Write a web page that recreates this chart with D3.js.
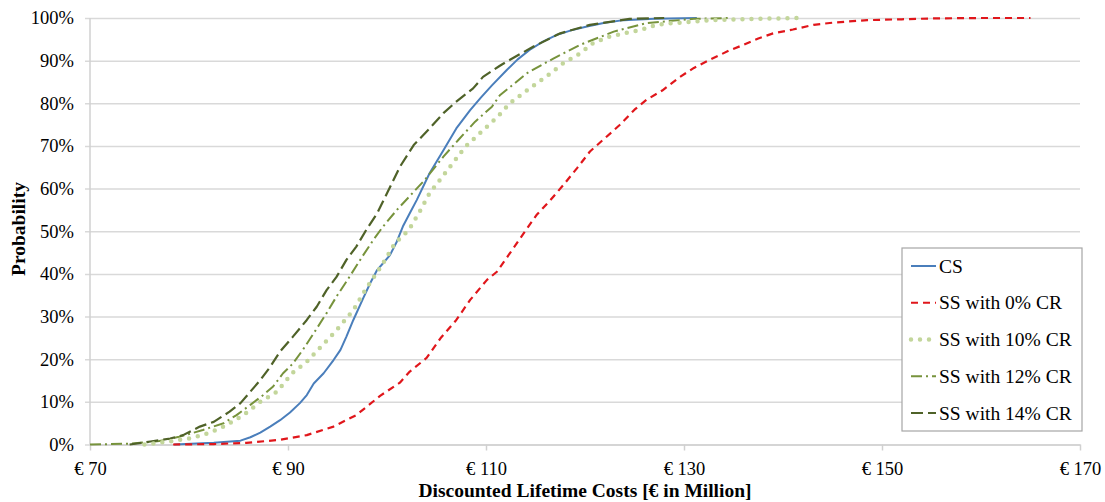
<!DOCTYPE html>
<html>
<head>
<meta charset="utf-8">
<script src="https://cdn.jsdelivr.net/npm/d3@7"></script>
<style>
  body { margin: 0; background: #fff; }
  svg { display: block; font-family: "Liberation Serif", "Times New Roman", serif; }
</style>
</head>
<body>
<svg class="chart"></svg>
<script>
// [cost in million €, cumulative probability in %]
var csData = [[78.5,0],[82.5,0.4],[85.2,0.9],[86.2,1.7],[87.2,2.8],[88.2,4.2],[89.2,5.7],[90.2,7.5],[91.2,9.7],[91.9,11.6],[92.6,14.3],[93.6,16.7],[94.6,19.8],[95.3,22.2],[95.9,25.3],[96.6,29.2],[97.6,34.3],[98.3,37.8],[99,40.9],[99.6,42.5],[100.3,44.4],[101,47.6],[101.6,51.1],[102.3,54.2],[103,57.3],[104.3,63.6],[105.7,69],[107,74.1],[108.4,78.4],[109.5,81.4],[110.6,84.2],[112.1,87.8],[113.2,90.3],[114.4,92.5],[115.7,94.4],[117.1,96],[118.6,97.1],[120.2,98],[122,98.9],[123.9,99.5],[127,99.8],[131.3,100]];
var ss0Data = [[78.4,0],[82.5,0.1],[85.8,0.4],[89.2,1.1],[91.9,2.2],[94.6,4.2],[96.9,6.9],[99.3,11.4],[101.3,14.5],[102.3,17.1],[104,20.3],[105.4,24.9],[107,29.2],[108.4,33.9],[110.1,38.6],[111.1,40.5],[112.4,44.8],[113.8,49.5],[115.1,53.8],[116.5,57.3],[117.8,60.8],[119.2,64.8],[120.5,68.7],[122,71.8],[123.5,74.9],[125,78.5],[126.2,80.8],[127.8,83],[129.6,86.2],[131,88.3],[132.6,90.2],[134.5,92.3],[136,93.7],[137.5,95.2],[139,96.4],[141,97.3],[143.1,98.4],[145,98.9],[148.5,99.5],[152,99.7],[155.2,99.9],[160,100],[165,100]];
var ss10Data = [[75.5,0],[78,0.7],[80.3,1.5],[82,2.7],[83.5,4.2],[85.5,6.9],[87.2,10],[88.9,12.4],[90.4,16.7],[91.9,19.4],[93.2,22.6],[94.9,26.8],[96.6,31.5],[97.9,36.6],[99.5,42.1],[100.8,47.2],[102.2,50.3],[103.3,54.6],[104.3,58.9],[106,64],[107.9,69.8],[109.9,74.1],[111.2,76.9],[112.4,80],[114.4,83.5],[116.5,87],[117.8,89.4],[119.5,91.7],[120.8,94.1],[122.4,95.6],[123.9,96.4],[125.6,97.2],[127.2,98.4],[128.9,98.8],[132.9,99.5],[137,99.8],[142,100]];
var ss12Data = [[70,0],[74,0.2],[77,0.8],[79,1.8],[81.4,3.4],[83.5,5],[84.8,6.9],[86.2,9.3],[87.5,11.6],[88.5,13.6],[89.5,16.7],[90.5,19],[91.5,22.2],[92.6,26.1],[93.9,30.8],[94.9,34.7],[95.9,38.2],[97.6,44.4],[98.6,47.9],[99.6,51.1],[101,55],[102,57.5],[103.8,62],[105.7,67.5],[107.2,71.4],[108.9,75.7],[110.6,79.2],[111.4,81.9],[112.8,84.5],[114.1,87],[116.8,90.5],[119.5,93.7],[122.9,96.8],[126.2,98.8],[131,99.8],[134.7,100]];
var ss14Data = [[74,0],[76.1,0.7],[78.1,1.4],[79.4,2.2],[81.1,4.2],[82.5,5.3],[84.1,7.7],[85.2,9.7],[86.2,12.4],[87.2,15.1],[88.2,18.2],[89.2,21.8],[90.5,25.3],[91.9,29.2],[92.9,32.3],[93.9,36.2],[94.9,39.3],[95.9,43.3],[96.9,46.4],[97.9,50.3],[99,54.2],[100,58.9],[101.3,65.1],[102.7,70.2],[104.3,74.1],[105.7,77.7],[107,80.4],[108.7,83.5],[109.7,86.2],[111.4,88.8],[112.1,89.8],[114.8,93.3],[117.5,96.4],[120.5,98.4],[124.5,99.8],[128,100]];

var seriesNames = ["CS", "SS with 0% CR", "SS with 10% CR", "SS with 12% CR", "SS with 14% CR"];
var xTicks = [70, 90, 110, 130, 150, 170];
var yTicks = [0, 10, 20, 30, 40, 50, 60, 70, 80, 90, 100];

var makeChart = function()
{
  var width = 1105;
  var height = 502;
  var left = 90, right = 1080, top = 18, bottom = 444.5;

  var svg = d3.select(".chart")
    .attr("width", width)
    .attr("height", height);

  var xScale = d3.scaleLinear().domain([70, 170]).range([left, right]);
  var yScale = d3.scaleLinear().domain([0, 100]).range([bottom, top]);

  // styles for each series, same order as seriesNames
  var styles = [
    {data: csData,  color: "#4a7ebb", width: 2,   dash: null,       cap: "butt"},
    {data: ss0Data, color: "#e0161b", width: 2.2, dash: "7,5",      cap: "butt"},
    {data: ss10Data,color: "#c3d69b", width: 4.5, dash: "0,9",      cap: "round"},
    {data: ss12Data,color: "#77933c", width: 2,   dash: "11,4,2,4", cap: "butt"},
    {data: ss14Data,color: "#4f6228", width: 2.2, dash: "12,5",     cap: "butt"}
  ];

  // horizontal gridlines + y axis
  var yAxis = d3.axisLeft(yScale)
    .tickValues(yTicks)
    .tickSize(-(right - left) - 5)
    .tickSizeOuter(0)
    .tickFormat(function(d){return d + "%";});

  var yG = svg.append("g")
    .attr("transform", "translate(" + left + ",0)")
    .call(yAxis);
  yG.select(".domain").remove();
  yG.selectAll(".tick line")
    .attr("x1", -5)
    .attr("x2", right - left)
    .attr("stroke", "#d9d9d9")
    .attr("stroke-width", 1.5);
  yG.selectAll(".tick text")
    .attr("x", -16)
    .attr("fill", "#000")
    .style("font-size", "18.5px")
    .style("font-family", "Liberation Serif");

  // left axis line
  svg.append("line")
    .attr("x1", left).attr("x2", left)
    .attr("y1", top).attr("y2", bottom)
    .attr("stroke", "#d0d0d0")
    .attr("stroke-width", 1.5);

  // x axis
  var xAxis = d3.axisBottom(xScale)
    .tickValues(xTicks)
    .tickSize(6)
    .tickSizeOuter(0)
    .tickFormat(function(d){return "€ " + d;});

  var xG = svg.append("g")
    .attr("transform", "translate(0," + bottom + ")")
    .call(xAxis);
  xG.select(".domain")
    .attr("stroke", "#d0d0d0")
    .attr("stroke-width", 1.5);
  xG.selectAll(".tick line")
    .attr("stroke", "#d0d0d0")
    .attr("stroke-width", 1.5);
  xG.selectAll(".tick text")
    .attr("y", 17)
    .attr("fill", "#000")
    .style("font-size", "18.5px")
    .style("font-family", "Liberation Serif");

  // the lines
  var line = d3.line()
    .x(function(d){return xScale(d[0]);})
    .y(function(d){return yScale(d[1]);});

  var order = [0, 1, 3, 4, 2];
  svg.selectAll("path.series")
     .data(order.map(function(i){return styles[i];}))
     .enter()
     .append("path")
     .attr("class", "series")
     .attr("d", function(d){return line(d.data);})
     .attr("fill", "none")
     .attr("stroke", function(d){return d.color;})
     .attr("stroke-width", function(d){return d.width;})
     .attr("stroke-dasharray", function(d){return d.dash;})
     .attr("stroke-linecap", function(d){return d.cap;})
     .attr("stroke-linejoin", "round");

  // legend
  var legX = 902, legY = 248;
  svg.append("rect")
     .attr("x", legX)
     .attr("y", legY)
     .attr("width", 180)
     .attr("height", 183)
     .attr("fill", "#fff")
     .attr("stroke", "#a6a6a6")
     .attr("stroke-width", 1.2);

  var leg = svg.selectAll("g.leg")
     .data(styles)
     .enter()
     .append("g")
     .attr("class", "leg")
     .attr("transform", function(d,i){return "translate(" + legX + "," + (legY + 18 + i*36.75) + ")";});

  leg.append("line")
     .attr("x1", 9)
     .attr("x2", function(d){return d.cap === "round" ? 35 : 34;})
     .attr("y1", 0)
     .attr("y2", 0)
     .attr("stroke", function(d){return d.color;})
     .attr("stroke-width", function(d){return d.width;})
     .attr("stroke-dasharray", function(d){return d.dash;})
     .attr("stroke-linecap", function(d){return d.cap;});

  leg.append("text")
     .text(function(d,i){return seriesNames[i];})
     .attr("x", 37)
     .attr("y", 6.5)
     .attr("fill", "#000")
     .style("font-size", "19.5px");

  // axis titles
  svg.append("text")
     .text("Discounted Lifetime Costs [€ in Million]")
     .attr("x", 585)
     .attr("y", 497)
     .attr("text-anchor", "middle")
     .attr("font-weight", "bold")
     .style("font-size", "19.5px");

  svg.append("text")
     .text("Probability")
     .attr("transform", "translate(25,229) rotate(-90)")
     .attr("text-anchor", "middle")
     .attr("font-weight", "bold")
     .style("font-size", "19.5px");
}

makeChart();
</script>
</body>
</html>
